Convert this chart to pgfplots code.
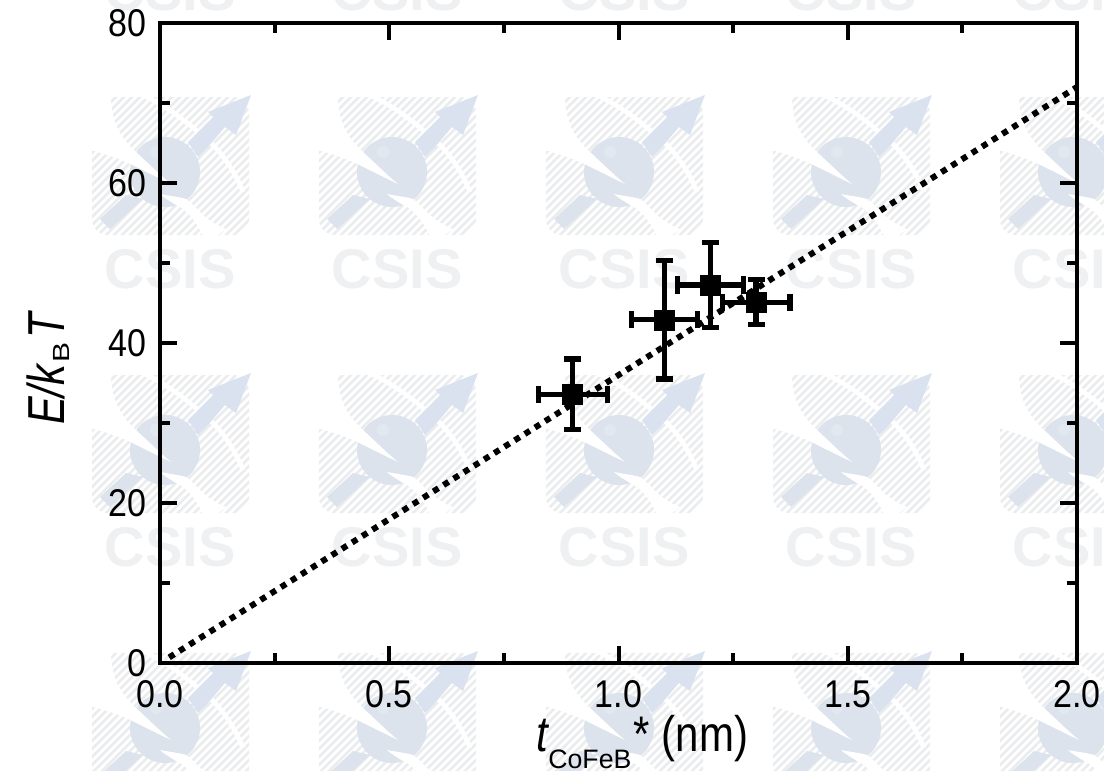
\documentclass[border=0pt]{standalone}
\usepackage{pgfplots}
\pgfplotsset{compat=1.18}
\usepackage{graphicx}
\usepackage{fontspec}
\setmainfont{Liberation Sans}
\definecolor{wmgray}{HTML}{EBECEE}
\definecolor{wmblue}{HTML}{DCE3EC}
\definecolor{wmarrow}{HTML}{D9E2EE}
\definecolor{wmlight}{HTML}{E2E8F0}
\definecolor{wmtext}{HTML}{EEF0F2}
\newcommand{\tl}[1]{\scalebox{0.88}[1]{\fontsize{29}{30}\selectfont #1}}
\begin{document}
\begin{tikzpicture}[x=0.75pt,y=-0.75pt]
\useasboundingbox (0,0) rectangle (1104,771);
\begin{scope}
\clip (0,0) rectangle (1104,771);
\foreach \ox in {92,319,546,773,1000} {
 \foreach \oy in {-181,97,375,653} {
  \begin{scope}[shift={(\ox,\oy)}]
   \begin{scope}
    \clip[rounded corners=12] (0,0) rectangle (157,138);
    \foreach \a in {-140,-132,...,157} {
      \draw[wmgray,line width=1.9pt] (\a,140) -- (\a+142,-2);
    }
   \end{scope}
   \draw[white,line width=3.5] (51,-2) .. controls (75,10) and (90,20) .. (121,48) .. controls (135,62) and (145,80) .. (151,95);
   \fill[wmblue] (8,122) -- (34,98) -- (51,102) -- (18,132) -- cycle;
   \fill[wmblue] (73,75) circle[radius=35];
   \fill[wmlight] (64,55) circle[radius=6];
   \fill[white] (19,-2) .. controls (19,25) and (28,40) .. (44,55) .. controls (56,66) and (68,78) .. (79,87) .. controls (60,78) and (45,70) .. (34,65) .. controls (22,60) and (10,56) .. (-2,53) -- (-2,-2) -- cycle;
   \fill[wmarrow] (104,37) -- (121,20) -- (116,15) -- (159,-2) -- (144,38) -- (133,30) -- (116,50) -- (106,60) -- (96,45) -- cycle;
   \fill[white] (68,97) .. controls (78,99) and (88,100) .. (94,102) .. controls (100,106) and (106,113) .. (111,118) .. controls (118,124) and (126,129) .. (134,132) -- (125,139) -- (111,139) .. controls (104,124) and (94,112) .. (84,108) .. controls (78,104) and (72,101) .. (68,97) -- cycle;
   \node[text=wmtext,font=\fontsize{42}{42}\selectfont\bfseries,anchor=center] at (78,172) {CSIS};
  \end{scope}
 }
}
\end{scope}
\begin{axis}[
  at={(120pt,-497.25pt)},anchor=south west,
  scale only axis,width=687.75pt,height=480pt,
  xmin=0,xmax=2,ymin=0,ymax=80,
  xtick={0,0.5,1,1.5,2},minor xtick={0.25,0.75,1.25,1.75},
  ytick={0,20,40,60,80},minor ytick={10,30,50,70},
  xticklabels={\tl{0.0},\tl{0.5},\tl{1.0},\tl{1.5},\tl{2.0}},
  yticklabels={\tl{0},\tl{20},\tl{40},\tl{60},\tl{80}},
  tick align=inside,
  major tick length=12.5pt,minor tick length=7.5pt,
  every tick/.style={black,line width=3pt},
  axis line style={line width=3.4pt},
  x tick label style={anchor=base,inner sep=0pt,yshift=-33pt},
  y tick label style={anchor=east,inner sep=0pt,xshift=-9.75pt},
  xlabel={\scalebox{0.84}[1]{\fontsize{37.5}{38}\selectfont\textit{t}}\hspace{-1pt}\raisebox{-13pt}[0pt][0pt]{\fontsize{20}{20}\selectfont CoFeB}\hspace{1.5pt}\scalebox{0.84}[1]{\fontsize{37.5}{38}\selectfont *}\hspace{9pt}\scalebox{0.84}[1]{\fontsize{37.5}{38}\selectfont (nm)}},
  ylabel={\scalebox{0.8}[1]{\fontsize{39}{40}\selectfont\textit{E/k}}\raisebox{-4pt}[0pt][0pt]{\scalebox{0.9}[0.7]{\fontsize{25}{25}\selectfont B}}\hspace{3pt}\scalebox{0.8}[1]{\fontsize{39}{40}\selectfont\textit{T}}},
  xlabel style={at={(axis description cs:0.526,-0.1375)},anchor=base,inner sep=0pt},
  ylabel style={at={(axis description cs:-0.1045,0.461)},anchor=base,inner sep=0pt},
  clip=false,
]
\addplot[black,line width=4.5pt,dash pattern=on 4.5pt off 4.5pt,forget plot] coordinates {(0.02,0.7) (2,72)};
\addplot[only marks,mark=square*,mark size=7.5pt,mark options={black},
  error bars/.cd,x dir=both,y dir=both,x explicit,y explicit,
  error bar style={black,line width=4pt},
  error mark options={rotate=90,mark size=6.4pt,line width=3.8pt,black}]
 coordinates {
 (0.9,33.6) +- (0.075,4.4)
 (1.1,42.9) +- (0.072,7.4)
 (1.2,47.25) +- (0.072,5.3)
 (1.3,45.1) +- (0.074,2.8)
 };
\end{axis}
\end{tikzpicture}
\end{document}
